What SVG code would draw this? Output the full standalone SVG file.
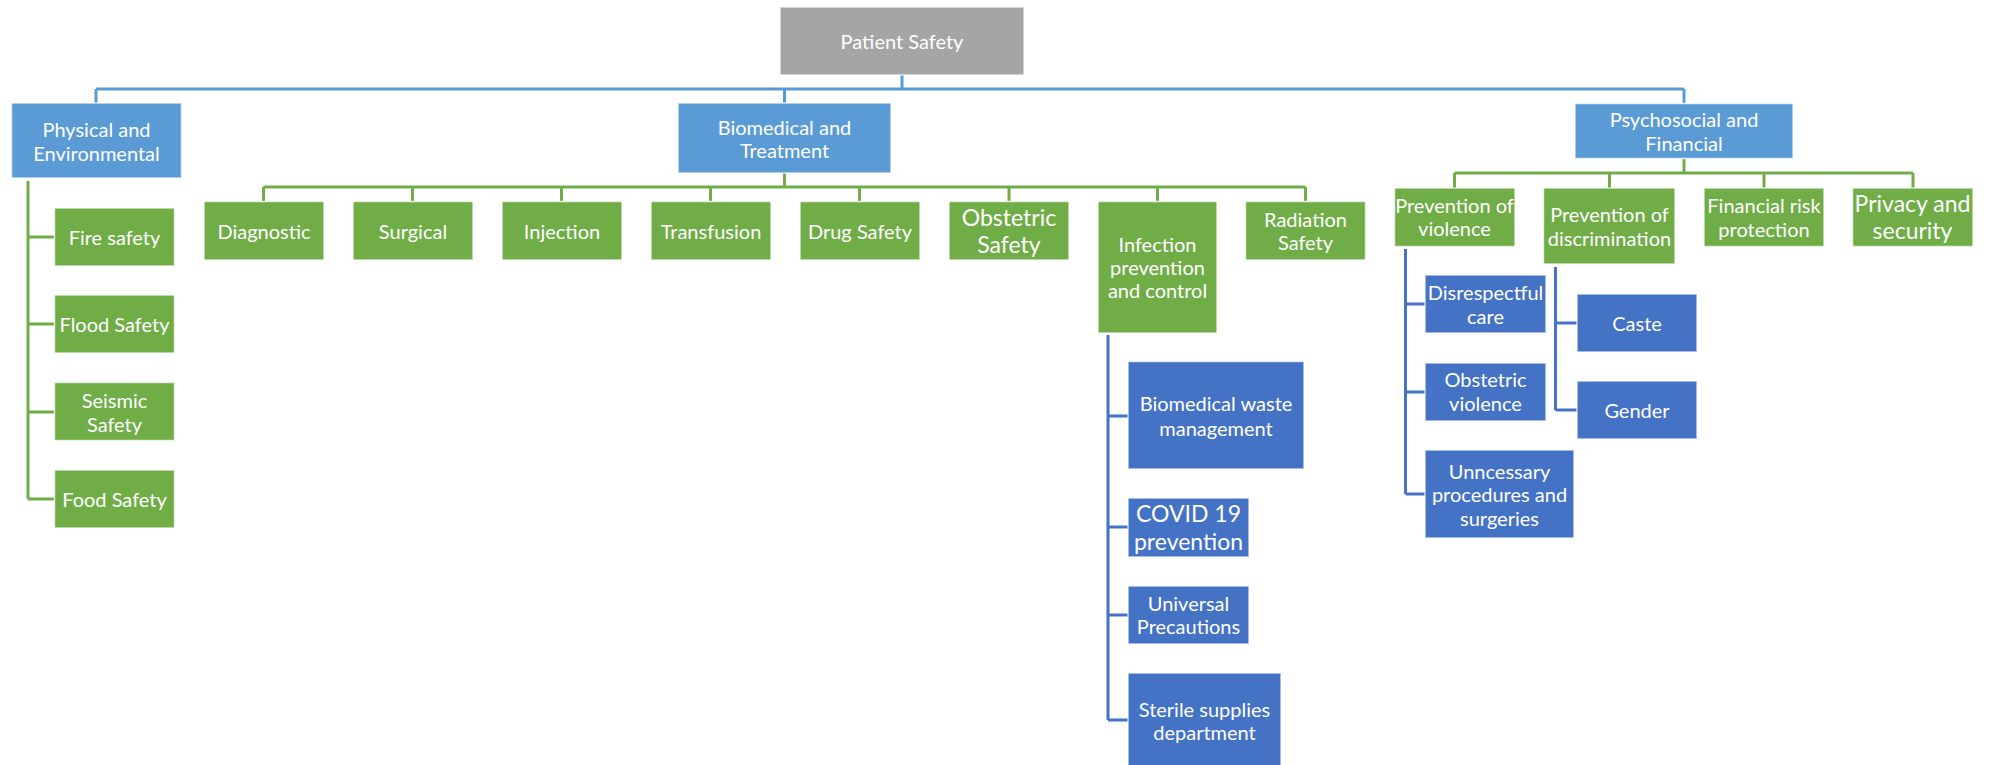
<svg xmlns="http://www.w3.org/2000/svg" width="1989" height="765" viewBox="0 0 1989 765">
  <style>
    .box { stroke: #ffffff; stroke-opacity: 0.7; stroke-width: 1.5; }
    .grey { fill: #A5A5A5; }
    .lblue { fill: #5B9BD5; }
    .green { fill: #70AD47; }
    .blue { fill: #4472C4; }
    text { font-family: Lato, "Open Sans", "Liberation Sans", sans-serif; font-size: 20px; fill: #ffffff; text-anchor: middle; dominant-baseline: central; }
    text.big { font-size: 23px; }
    .c-lblue { stroke: #5B9BD5; stroke-width: 3; fill: none; }
    .c-green { stroke: #70AD47; stroke-width: 3; fill: none; }
    .c-blue { stroke: #4472C4; stroke-width: 3; fill: none; }
  </style>
  <rect width="1989" height="765" fill="#ffffff"/>

  <!-- connectors -->
  <g id="connectors">
    <!-- root to first level -->
    <path class="c-lblue" d="M902 75 V89 M96 89 H1684 M96 89 V103 M784.5 89 V103 M1684 89 V103"/>
    <!-- Physical and Environmental children -->
    <path class="c-green" d="M28 181 V499 M28 237 H54 M28 324 H54 M28 412 H54 M28 499 H54"/>
    <!-- Biomedical and Treatment children -->
    <path class="c-green" d="M784.5 173 V187 M263.5 187 H1305.5 M263.5 187 V201 M412.5 187 V201 M561.5 187 V201 M710.5 187 V201 M859.5 187 V201 M1009 187 V201 M1157.5 187 V201 M1305.5 187 V201"/>
    <!-- Psychosocial and Financial children -->
    <path class="c-green" d="M1684 159 V173 M1454.5 173 H1913 M1454.5 173 V188 M1609.5 173 V188 M1764 173 V188 M1913 173 V188"/>
    <!-- Infection prevention children -->
    <path class="c-blue" d="M1108 335 V720 M1108 416 H1128 M1108 527 H1128 M1108 615 H1128 M1108 720 H1128"/>
    <!-- Prevention of violence children -->
    <path class="c-blue" d="M1405.5 249 V494 M1405.5 304 H1425 M1405.5 392 H1425 M1405.5 494 H1425"/>
    <!-- Prevention of discrimination children -->
    <path class="c-blue" d="M1555.5 267 V410 M1555.5 323 H1577 M1555.5 410 H1577"/>
  </g>

  <!-- root -->
  <g id="patient-safety">
    <rect class="box grey" x="780" y="7" width="244" height="68"/>
    <text x="902" y="41">Patient Safety</text>
  </g>

  <!-- first level -->
  <g id="physical-environmental">
    <rect class="box lblue" x="11.5" y="103" width="170" height="75"/>
    <text x="96.5" y="129">Physical and</text>
    <text x="96.5" y="153">Environmental</text>
  </g>
  <g id="biomedical-treatment">
    <rect class="box lblue" x="678" y="103" width="213" height="70"/>
    <text x="784.5" y="127">Biomedical and</text>
    <text x="784.5" y="150">Treatment</text>
  </g>
  <g id="psychosocial-financial">
    <rect class="box lblue" x="1575" y="103.5" width="218" height="55"/>
    <text x="1684" y="119">Psychosocial and</text>
    <text x="1684" y="143">Financial</text>
  </g>

  <!-- Physical and Environmental -->
  <g id="fire-safety">
    <rect class="box green" x="54.5" y="208" width="120" height="58"/>
    <text x="114.5" y="237">Fire safety</text>
  </g>
  <g id="flood-safety">
    <rect class="box green" x="54.5" y="295" width="120" height="58"/>
    <text x="114.5" y="324">Flood Safety</text>
  </g>
  <g id="seismic-safety">
    <rect class="box green" x="54.5" y="382.5" width="120" height="58"/>
    <text x="114.5" y="400">Seismic</text>
    <text x="114.5" y="424">Safety</text>
  </g>
  <g id="food-safety">
    <rect class="box green" x="54.5" y="470" width="120" height="58"/>
    <text x="114.5" y="499">Food Safety</text>
  </g>

  <!-- Biomedical and Treatment -->
  <g id="diagnostic">
    <rect class="box green" x="204" y="201.5" width="120" height="58.5"/>
    <text x="264" y="231">Diagnostic</text>
  </g>
  <g id="surgical">
    <rect class="box green" x="353" y="201.5" width="120" height="58.5"/>
    <text x="413" y="231">Surgical</text>
  </g>
  <g id="injection">
    <rect class="box green" x="502" y="201.5" width="120" height="58.5"/>
    <text x="562" y="231">Injection</text>
  </g>
  <g id="transfusion">
    <rect class="box green" x="651" y="201.5" width="120" height="58.5"/>
    <text x="711" y="231">Transfusion</text>
  </g>
  <g id="drug-safety">
    <rect class="box green" x="800" y="201.5" width="120" height="58.5"/>
    <text x="860" y="231">Drug Safety</text>
  </g>
  <g id="obstetric-safety">
    <rect class="box green" x="949" y="201.5" width="120" height="58.5"/>
    <text class="big" x="1009" y="217">Obstetric</text>
    <text class="big" x="1009" y="244">Safety</text>
  </g>
  <g id="infection-prevention">
    <rect class="box green" x="1098" y="201.5" width="119" height="131.5"/>
    <text x="1157.5" y="244">Infection</text>
    <text x="1157.5" y="267">prevention</text>
    <text x="1157.5" y="290">and control</text>
  </g>
  <g id="radiation-safety">
    <rect class="box green" x="1245.5" y="201.5" width="120" height="58.5"/>
    <text x="1305.5" y="219">Radiation</text>
    <text x="1305.5" y="242">Safety</text>
  </g>

  <!-- Infection prevention and control -->
  <g id="biomedical-waste">
    <rect class="box blue" x="1128" y="361.5" width="176" height="107.5"/>
    <text x="1216" y="403">Biomedical waste</text>
    <text x="1216" y="428">management</text>
  </g>
  <g id="covid-19">
    <rect class="box blue" x="1128" y="498" width="121" height="59"/>
    <text class="big" x="1188.5" y="513">COVID 19</text>
    <text class="big" x="1188.5" y="541">prevention</text>
  </g>
  <g id="universal-precautions">
    <rect class="box blue" x="1128" y="586" width="121" height="58"/>
    <text x="1188.5" y="603">Universal</text>
    <text x="1188.5" y="626">Precautions</text>
  </g>
  <g id="sterile-supplies">
    <rect class="box blue" x="1128" y="673" width="153" height="100"/>
    <text x="1204.5" y="709">Sterile supplies</text>
    <text x="1204.5" y="732">department</text>
  </g>

  <!-- Psychosocial and Financial -->
  <g id="prevention-violence">
    <rect class="box green" x="1394.5" y="188" width="120.5" height="58.5"/>
    <text x="1454.5" y="205">Prevention of</text>
    <text x="1454.5" y="228">violence</text>
  </g>
  <g id="prevention-discrimination">
    <rect class="box green" x="1543.5" y="188" width="131.5" height="76"/>
    <text x="1609.5" y="214">Prevention of</text>
    <text x="1609.5" y="238">discrimination</text>
  </g>
  <g id="financial-risk">
    <rect class="box green" x="1704" y="188" width="120" height="58.5"/>
    <text x="1764" y="205">Financial risk</text>
    <text x="1764" y="229">protection</text>
  </g>
  <g id="privacy-security">
    <rect class="box green" x="1852.5" y="188" width="120.5" height="58.5"/>
    <text class="big" x="1912.5" y="203">Privacy and</text>
    <text class="big" x="1912.5" y="230">security</text>
  </g>

  <!-- Prevention of violence -->
  <g id="disrespectful-care">
    <rect class="box blue" x="1425" y="275" width="121" height="58"/>
    <text x="1485.5" y="292">Disrespectful</text>
    <text x="1485.5" y="316">care</text>
  </g>
  <g id="obstetric-violence">
    <rect class="box blue" x="1425" y="363" width="121" height="58"/>
    <text x="1485.5" y="379">Obstetric</text>
    <text x="1485.5" y="403">violence</text>
  </g>
  <g id="unnecessary-procedures">
    <rect class="box blue" x="1425" y="450" width="149" height="88"/>
    <text x="1499.5" y="471">Unncessary</text>
    <text x="1499.5" y="494">procedures and</text>
    <text x="1499.5" y="518">surgeries</text>
  </g>

  <!-- Prevention of discrimination -->
  <g id="caste">
    <rect class="box blue" x="1577" y="294" width="120" height="58"/>
    <text x="1637" y="323">Caste</text>
  </g>
  <g id="gender">
    <rect class="box blue" x="1577" y="381" width="120" height="58"/>
    <text x="1637" y="410">Gender</text>
  </g>
</svg>
